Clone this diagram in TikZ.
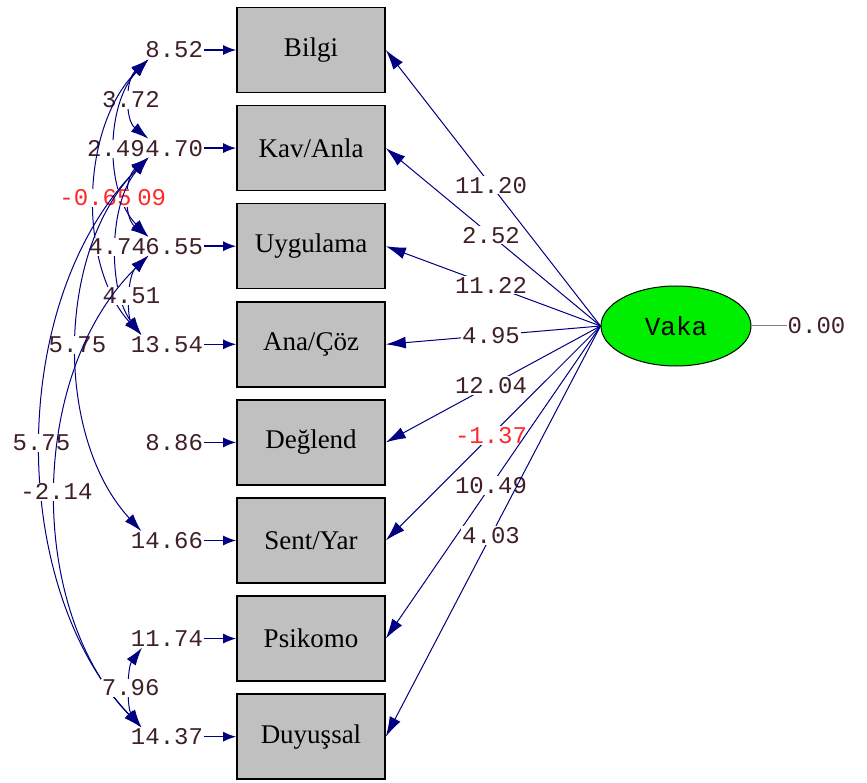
\documentclass[tikz,border=0pt]{standalone}
\usepackage{fontspec}
\setmainfont{Liberation Serif}
\newfontfamily\numfont{Liberation Mono}
\usetikzlibrary{arrows.meta,positioning,shapes.geometric}

\definecolor{pathblue}{RGB}{0,0,128}
\definecolor{boxgray}{RGB}{192,192,192}
\definecolor{numtext}{RGB}{64,32,40}
\definecolor{negred}{RGB}{255,40,40}
\definecolor{latgreen}{RGB}{0,238,0}

\tikzset{
  obsbox/.style={draw=black,line width=1.6pt,fill=boxgray,minimum width=148pt,minimum height=85pt,font=\fontsize{27}{27}\selectfont},
  errval/.style={font=\numfont\fontsize{24}{24}\selectfont,text=numtext,inner sep=1pt},
  lbl/.style={font=\numfont\fontsize{24}{24}\selectfont,text=numtext,fill=white,inner sep=1pt},
  neglbl/.style={lbl,text=negred},
  load/.style={pathblue,line width=1pt,-{Latex[length=20pt,width=12pt]}},
  errarr/.style={pathblue,line width=1.5pt,-{Latex[length=13pt,width=10pt]}},
  cov/.style={pathblue,line width=1pt,{Latex[length=18pt,width=11pt]}-{Latex[length=18pt,width=11pt]}},
}

\begin{document}
\begin{tikzpicture}[x=1pt,y=-1pt]
  \useasboundingbox (0,0) rectangle (867,783);

  % Observed variables
  \node[obsbox] (bilgi) at (311,50) {Bilgi};
  \node[obsbox,below=11.5pt of bilgi] (kav) {Kav/Anla};
  \node[obsbox,below=11.5pt of kav] (uyg) {Uygulama};
  \node[obsbox,below=11.5pt of uyg] (ana) {Ana/Çöz};
  \node[obsbox,below=11.5pt of ana] (deg) {Değlend};
  \node[obsbox,below=11.5pt of deg] (sent) {Sent/Yar};
  \node[obsbox,below=11.5pt of sent] (psi) {Psikomo};
  \node[obsbox,below=11.5pt of psi] (duy) {Duyuşsal};

  % Latent variable
  \node[ellipse,draw=black,line width=1pt,fill=latgreen,minimum width=150pt,minimum height=80pt,
        font=\numfont\fontsize{26}{26}\selectfont] (vaka) at (676,326) {Vaka};
  \node[errval,right=35pt of vaka] (vakaerr) {0.00};
  \draw[gray,line width=1pt] (vaka.east) -- (vakaerr.west);

  % Error variances
  \node[errval,left=32pt of bilgi] (ebil) {8.52};
  \node[errval,left=32pt of kav] (ekav) {4.70};
  \node[errval,left=32pt of uyg] (euyg) {6.55};
  \node[errval,left=32pt of ana] (eana) {13.54};
  \node[errval,left=32pt of deg] (edeg) {8.86};
  \node[errval,left=32pt of sent] (esent) {14.66};
  \node[errval,left=32pt of psi] (epsi) {11.74};
  \node[errval,left=32pt of duy] (eduy) {14.37};
  \foreach \e/\b in {ebil/bilgi,ekav/kav,euyg/uyg,eana/ana,edeg/deg,esent/sent,epsi/psi,eduy/duy}
    \draw[errarr] (\e) -- (\b);

  % Loadings
  \draw[load] (vaka.west) -- node[lbl,pos=0.51] (l1) {11.20} (bilgi.east);
  \draw[load] (vaka.west) -- node[lbl,pos=0.51] (l2) {2.52} (kav.east);
  \draw[load] (vaka.west) -- node[lbl,pos=0.51] (l3) {11.22} (uyg.east);
  \draw[load] (vaka.west) -- node[lbl,pos=0.51] (l4) {4.95} (ana.east);
  \draw[load] (vaka.west) -- node[lbl,pos=0.51] (l5) {12.04} (deg.east);
  \draw[load] (vaka.west) -- node[neglbl,pos=0.51] (l6) {-1.37} (sent.east);
  \draw[load] (vaka.west) -- node[lbl,pos=0.51] (l7) {10.49} (psi.east);
  \draw[load] (vaka.west) -- node[lbl,pos=0.51] (l8) {4.03} (duy.east);

  % Error covariances
  \draw[cov] (ebil.200) .. controls (125,80) and (125,120) .. node[lbl,pos=0.5] (c1) {3.72} (ekav.160);
  \draw[cov] (ebil.200) .. controls (105,105) and (105,193) .. node[lbl,pos=0.5] (c2) {2.49} (euyg.160);
  \draw[cov] (ekav.200) .. controls (124,178) and (124,218) .. node[neglbl,pos=0.5] (c4) {-0.09} (euyg.160);
  \draw[cov] (ebil.200) .. controls (79,129) and (79,267) .. node[neglbl,pos=0.5] (c3) {-0.65} (eana.160);
  \draw[cov] (ekav.200) .. controls (108,203) and (108,291) .. node[lbl,pos=0.5] (c5) {4.74} (eana.160);
  \draw[cov] (euyg.200) .. controls (127,276) and (127,316) .. node[lbl,pos=0.5] (c6) {4.51} (eana.160);
  \draw[cov] (ekav.200) .. controls (55,252) and (55,438) .. node[lbl,pos=0.5] (c7) {5.75} (esent.160);
  \draw[cov] (ekav.200) .. controls (7,300) and (7,586) .. node[lbl,pos=0.5] (c8) {5.75} (eduy.160);
  \draw[cov] (euyg.200) .. controls (27,374) and (27,610) .. node[lbl,pos=0.5] (c9) {-2.14} (eduy.160);
  \draw[cov] (epsi.200) .. controls (127,668) and (127,708) .. node[lbl,pos=0.5] (c10) {7.96} (eduy.160);
\end{tikzpicture}
\end{document}
